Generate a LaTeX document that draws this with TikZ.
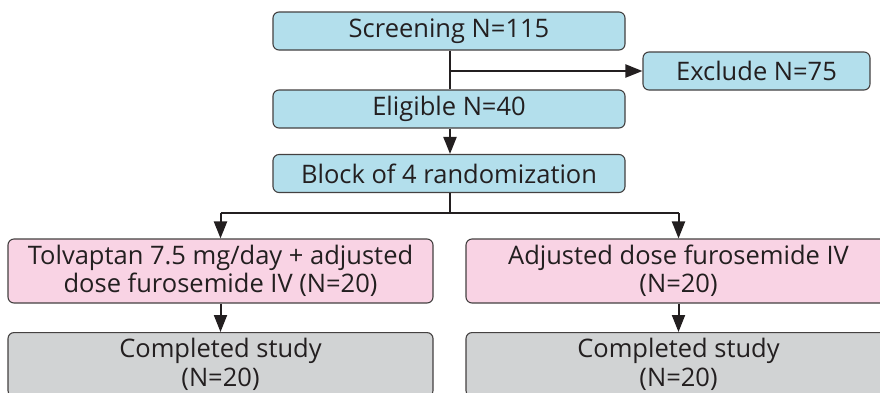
\documentclass[tikz,border=0pt]{standalone}
\usepackage{fontspec}
\setmainfont{Open Sans}
\usetikzlibrary{arrows.meta,positioning}
\definecolor{boxblue}{HTML}{B3DFEC}
\definecolor{boxpink}{HTML}{F9D3E4}
\definecolor{boxgray}{HTML}{D1D3D4}
\definecolor{ink}{HTML}{231F20}
\begin{document}
\begin{tikzpicture}[x=1pt,y=-1pt,
  box/.style={draw=ink!85, line width=1.1pt, rounded corners=6pt,
    inner sep=0pt, align=center, font=\fontsize{25.5}{28.5}\selectfont, text=ink},
  bluebox/.style={box, fill=boxblue, minimum width=352pt, minimum height=38pt},
  exbox/.style={box, fill=boxblue, minimum width=227pt, minimum height=38pt},
  pinkbox/.style={box, fill=boxpink, minimum width=425pt, minimum height=64pt},
  graybox/.style={box, fill=boxgray, minimum width=425pt, minimum height=64pt},
  link/.style={draw=ink, line width=2pt},
  arr/.style={link, -{Triangle[length=17pt,width=13pt]}}
]
\useasboundingbox (0,0) rectangle (880,392);
\clip (0,0) rectangle (880,392);

% top column
\node[bluebox] (screen) at (449,31) {Screening N=115};
\node[bluebox] (elig) at (449,109) {Eligible N=40};
\node[bluebox] (block) at (449,173.5) {Block of 4 randomization};
\node[exbox] (excl) at (756.5,71) {Exclude N=75};

% treatment arms
\node[pinkbox] (armA) at (220.5,271) {Tolvaptan 7.5 mg/day + adjusted\\dose furosemide IV (N=20)};
\node[pinkbox] (armB) at (678.5,271) {Adjusted dose furosemide IV\\(N=20)};

% completion
\node[graybox, anchor=north] (doneA) at (220.5,332) {Completed study\\(N=20)};
\node[graybox, anchor=north] (doneB) at (678.5,332) {Completed study\\(N=20)};

% connectors
\coordinate (split) at (450,71);
\draw[link] (screen.south -| split) -- (elig.north -| split);
\draw[arr] (split) -- (excl.west);
\draw[arr] (elig.south -| split) -- (block.north -| split);

\coordinate (fork) at (450,213);
\draw[link] (block.south -| fork) -- (fork);
\draw[link] (armA.north |- fork) -- (armB.north |- fork);
\draw[arr] (armA.north |- fork) -- (armA.north);
\draw[arr] (armB.north |- fork) -- (armB.north);

\draw[arr] (armA.south) -- (doneA.north);
\draw[arr] (armB.south) -- (doneB.north);
\end{tikzpicture}
\end{document}
